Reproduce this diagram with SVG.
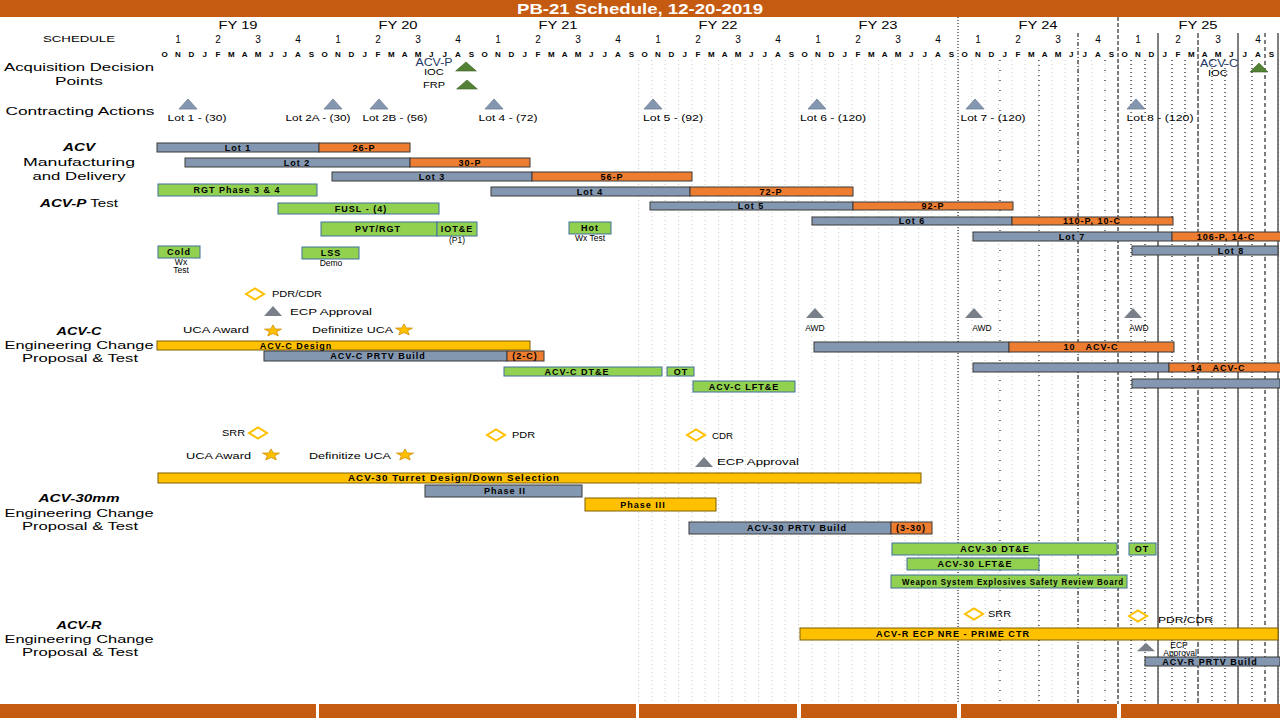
<svg xmlns="http://www.w3.org/2000/svg" width="1280" height="720" viewBox="0 0 1280 720">
<style>
text{font-family:"Liberation Sans",Arial,sans-serif;fill:#000}
.lbl{font-size:11px;text-anchor:middle}
.hdr{font-size:10px;text-anchor:middle}
.mo{font-size:8px;font-weight:bold;text-anchor:middle}
.bt{font-size:9px;font-weight:bold;text-anchor:middle;dominant-baseline:central;letter-spacing:1px}
.ms{font-size:8.5px;dominant-baseline:central}
.gray{fill:#8497B0;stroke:#3A3A3A;stroke-width:1}
.org{fill:#ED7D31;stroke:#3A3A3A;stroke-width:1}
.grn{fill:#92D050;stroke:#41719C;stroke-width:1}
.yel{fill:#FFC000;stroke:#7F6000;stroke-width:1}
.dia{fill:#fff;stroke:#FFC000;stroke-width:2}
.tri{fill:#8497B0;stroke:#6F7F95;stroke-width:0.8}
.dtri{fill:#7A808A}
.gtri{fill:#548235;stroke:#3B5E25;stroke-width:0.6}
.star{fill:#FFC000;stroke:#C98A00;stroke-width:0.8}
.band{fill:#C55A11}
</style>
<defs>
<pattern id="mgrid" x="638" y="0" width="13.3333" height="4" patternUnits="userSpaceOnUse">
<rect x="0" y="0" width="1" height="1" fill="#C8C8C8"/>
</pattern>
<path id="tri" d="M-9,5 L0,-5 L9,5 Z"/>
<path id="dia" d="M-9,0 L0,-5.5 L9,0 L0,5.5 Z"/>
<path id="star" d="M0,-8 L2,-2.75 L7.61,-2.47 L3.23,1.05 L4.7,6.47 L0,3.4 L-4.7,6.47 L-3.23,1.05 L-7.61,-2.47 L-2,-2.75 Z" transform="scale(1.12,0.76)"/>
</defs>
<rect width="1280" height="720" fill="#fff"/>

<g id="title">
<rect class="band" x="0" y="0" width="1280" height="17"/>
<text x="640" y="14" text-anchor="middle" font-size="14" font-weight="bold" style="fill:#fff" textLength="246" lengthAdjust="spacingAndGlyphs">PB-21 Schedule, 12-20-2019</text>
</g>

<g id="grid">
<rect x="638" y="60" width="642" height="644" fill="url(#mgrid)"/>
<g stroke="#000" fill="none">
<line x1="958" y1="17" x2="958" y2="704" stroke-dasharray="1,2"/>
<line x1="1000" y1="60" x2="1000" y2="704" stroke-dasharray="1,9"/>
<line x1="1039" y1="60" x2="1039" y2="704" stroke-dasharray="1,4"/>
<line x1="1078" y1="33" x2="1078" y2="704" stroke-dasharray="4,2,1,2"/>
<line x1="1105" y1="60" x2="1105" y2="704" stroke-dasharray="1,9"/>
<line x1="1118" y1="17" x2="1118" y2="704" stroke-dasharray="4,2"/>
<line x1="1158" y1="33" x2="1158" y2="704"/>
<line x1="1198" y1="33" x2="1198" y2="704" stroke-dasharray="5,2"/>
<line x1="1238" y1="33" x2="1238" y2="704"/>
<line x1="1265" y1="33" x2="1265" y2="704" stroke-dasharray="4,3"/>
<line x1="1278" y1="33" x2="1278" y2="704"/>
<g stroke-dasharray="1,3">
<line x1="1131" y1="60" x2="1131" y2="704"/>
<line x1="1145" y1="60" x2="1145" y2="704"/>
<line x1="1172" y1="60" x2="1172" y2="704"/>
<line x1="1185" y1="60" x2="1185" y2="704"/>
<line x1="1212" y1="60" x2="1212" y2="704"/>
<line x1="1225" y1="60" x2="1225" y2="704"/>
<line x1="1252" y1="60" x2="1252" y2="704"/>
</g>
</g>
</g>

<g id="timeline-header">
<text x="79" y="42" font-size="9" text-anchor="middle" textLength="72" lengthAdjust="spacingAndGlyphs">SCHEDULE</text>
<g class="hdr">
<text x="238" y="29" textLength="39" lengthAdjust="spacingAndGlyphs">FY 19</text>
<text x="398" y="29" textLength="39" lengthAdjust="spacingAndGlyphs">FY 20</text>
<text x="558" y="29" textLength="39" lengthAdjust="spacingAndGlyphs">FY 21</text>
<text x="718" y="29" textLength="39" lengthAdjust="spacingAndGlyphs">FY 22</text>
<text x="878" y="29" textLength="39" lengthAdjust="spacingAndGlyphs">FY 23</text>
<text x="1038" y="29" textLength="39" lengthAdjust="spacingAndGlyphs">FY 24</text>
<text x="1198" y="29" textLength="39" lengthAdjust="spacingAndGlyphs">FY 25</text>
</g>
<g class="hdr">
<text x="178" y="43">1</text><text x="218" y="43">2</text><text x="258" y="43">3</text><text x="298" y="43">4</text>
<text x="338" y="43">1</text><text x="378" y="43">2</text><text x="418" y="43">3</text><text x="458" y="43">4</text>
<text x="498" y="43">1</text><text x="538" y="43">2</text><text x="578" y="43">3</text><text x="618" y="43">4</text>
<text x="658" y="43">1</text><text x="698" y="43">2</text><text x="738" y="43">3</text><text x="778" y="43">4</text>
<text x="818" y="43">1</text><text x="858" y="43">2</text><text x="898" y="43">3</text><text x="938" y="43">4</text>
<text x="978" y="43">1</text><text x="1018" y="43">2</text><text x="1058" y="43">3</text><text x="1098" y="43">4</text>
<text x="1138" y="43">1</text><text x="1178" y="43">2</text><text x="1218" y="43">3</text><text x="1258" y="43">4</text>
</g>
<g class="mo">
<text x="164.7" y="57">O</text><text x="178" y="57">N</text><text x="191.3" y="57">D</text><text x="204.7" y="57">J</text><text x="218" y="57">F</text><text x="231.3" y="57">M</text><text x="244.7" y="57">A</text><text x="258" y="57">M</text><text x="271.3" y="57">J</text><text x="284.7" y="57">J</text><text x="298" y="57">A</text><text x="311.3" y="57">S</text>
<text x="324.7" y="57">O</text><text x="338" y="57">N</text><text x="351.3" y="57">D</text><text x="364.7" y="57">J</text><text x="378" y="57">F</text><text x="391.3" y="57">M</text><text x="404.7" y="57">A</text><text x="418" y="57">M</text><text x="431.3" y="57">J</text><text x="444.7" y="57">J</text><text x="458" y="57">A</text><text x="471.3" y="57">S</text>
<text x="484.7" y="57">O</text><text x="498" y="57">N</text><text x="511.3" y="57">D</text><text x="524.7" y="57">J</text><text x="538" y="57">F</text><text x="551.3" y="57">M</text><text x="564.7" y="57">A</text><text x="578" y="57">M</text><text x="591.3" y="57">J</text><text x="604.7" y="57">J</text><text x="618" y="57">A</text><text x="631.3" y="57">S</text>
<text x="644.7" y="57">O</text><text x="658" y="57">N</text><text x="671.3" y="57">D</text><text x="684.7" y="57">J</text><text x="698" y="57">F</text><text x="711.3" y="57">M</text><text x="724.7" y="57">A</text><text x="738" y="57">M</text><text x="751.3" y="57">J</text><text x="764.7" y="57">J</text><text x="778" y="57">A</text><text x="791.3" y="57">S</text>
<text x="804.7" y="57">O</text><text x="818" y="57">N</text><text x="831.3" y="57">D</text><text x="844.7" y="57">J</text><text x="858" y="57">F</text><text x="871.3" y="57">M</text><text x="884.7" y="57">A</text><text x="898" y="57">M</text><text x="911.3" y="57">J</text><text x="924.7" y="57">J</text><text x="938" y="57">A</text><text x="951.3" y="57">S</text>
<text x="964.7" y="57">O</text><text x="978" y="57">N</text><text x="991.3" y="57">D</text><text x="1004.7" y="57">J</text><text x="1018" y="57">F</text><text x="1031.3" y="57">M</text><text x="1044.7" y="57">A</text><text x="1058" y="57">M</text><text x="1071.3" y="57">J</text><text x="1084.7" y="57">J</text><text x="1098" y="57">A</text><text x="1111.3" y="57">S</text>
<text x="1124.7" y="57">O</text><text x="1138" y="57">N</text><text x="1151.3" y="57">D</text><text x="1164.7" y="57">J</text><text x="1178" y="57">F</text><text x="1191.3" y="57">M</text><text x="1204.7" y="57">A</text><text x="1218" y="57">M</text><text x="1231.3" y="57">J</text><text x="1244.7" y="57">J</text><text x="1258" y="57">A</text><text x="1271.3" y="57">S</text>
</g>
</g>

<g id="row-labels" class="lbl">
<text x="79" y="71" textLength="150" lengthAdjust="spacingAndGlyphs">Acquisition Decision</text>
<text x="79" y="85" textLength="48" lengthAdjust="spacingAndGlyphs">Points</text>
<text x="80" y="115" textLength="149" lengthAdjust="spacingAndGlyphs">Contracting Actions</text>
<text x="79" y="151" font-weight="bold" font-style="italic" textLength="32" lengthAdjust="spacingAndGlyphs">ACV</text>
<text x="79" y="166" textLength="112" lengthAdjust="spacingAndGlyphs">Manufacturing</text>
<text x="79" y="180" textLength="93" lengthAdjust="spacingAndGlyphs">and Delivery</text>
<text x="79" y="207" textLength="78" lengthAdjust="spacingAndGlyphs"><tspan font-weight="bold" font-style="italic">ACV-P</tspan> Test</text>
<text x="79" y="335" font-weight="bold" font-style="italic" textLength="45" lengthAdjust="spacingAndGlyphs">ACV-C</text>
<text x="79" y="349" textLength="149" lengthAdjust="spacingAndGlyphs">Engineering Change</text>
<text x="80" y="362" textLength="116" lengthAdjust="spacingAndGlyphs">Proposal &amp; Test</text>
<text x="79" y="502" font-weight="bold" font-style="italic" textLength="81" lengthAdjust="spacingAndGlyphs">ACV-30mm</text>
<text x="79" y="517" textLength="149" lengthAdjust="spacingAndGlyphs">Engineering Change</text>
<text x="80" y="530" textLength="116" lengthAdjust="spacingAndGlyphs">Proposal &amp; Test</text>
<text x="79" y="629" font-weight="bold" font-style="italic" textLength="45" lengthAdjust="spacingAndGlyphs">ACV-R</text>
<text x="79" y="643" textLength="149" lengthAdjust="spacingAndGlyphs">Engineering Change</text>
<text x="80" y="656" textLength="116" lengthAdjust="spacingAndGlyphs">Proposal &amp; Test</text>
</g>

<g id="acq-decisions">
<text x="434" y="66" font-size="10" text-anchor="middle" style="fill:#1F3864" textLength="37" lengthAdjust="spacingAndGlyphs">ACV-P</text>
<text x="434" y="75" font-size="8.5" text-anchor="middle" textLength="20" lengthAdjust="spacingAndGlyphs">IOC</text>
<use href="#tri" class="gtri" transform="translate(466,66.5) scale(1.15,0.9)"/>
<text x="434" y="88" font-size="8.5" text-anchor="middle" textLength="22" lengthAdjust="spacingAndGlyphs">FRP</text>
<use href="#tri" class="gtri" transform="translate(467,84.5) scale(1.15,0.9)"/>
<text x="1219" y="67" font-size="10" text-anchor="middle" style="fill:#1F3864" textLength="38" lengthAdjust="spacingAndGlyphs">ACV-C</text>
<text x="1218" y="76" font-size="8.5" text-anchor="middle" textLength="20" lengthAdjust="spacingAndGlyphs">IOC</text>
<use href="#tri" class="gtri" transform="translate(1259,67.5) scale(1.0,0.9)"/>
</g>

<g id="contracting">
<use href="#tri" class="tri" x="188" y="104"/>
<text class="ms" x="197" y="118" text-anchor="middle" textLength="59" lengthAdjust="spacingAndGlyphs">Lot 1 - (30)</text>
<use href="#tri" class="tri" x="333" y="104"/>
<text class="ms" x="318" y="118" text-anchor="middle" textLength="65" lengthAdjust="spacingAndGlyphs">Lot 2A - (30)</text>
<use href="#tri" class="tri" x="379" y="104"/>
<text class="ms" x="395" y="118" text-anchor="middle" textLength="65" lengthAdjust="spacingAndGlyphs">Lot 2B - (56)</text>
<use href="#tri" class="tri" x="494" y="104"/>
<text class="ms" x="508" y="118" text-anchor="middle" textLength="59" lengthAdjust="spacingAndGlyphs">Lot 4 - (72)</text>
<use href="#tri" class="tri" x="653" y="104"/>
<text class="ms" x="673" y="118" text-anchor="middle" textLength="60" lengthAdjust="spacingAndGlyphs">Lot 5 - (92)</text>
<use href="#tri" class="tri" x="817" y="104"/>
<text class="ms" x="833" y="118" text-anchor="middle" textLength="66" lengthAdjust="spacingAndGlyphs">Lot 6 - (120)</text>
<use href="#tri" class="tri" x="975" y="104"/>
<text class="ms" x="993" y="118" text-anchor="middle" textLength="65" lengthAdjust="spacingAndGlyphs">Lot 7 - (120)</text>
<use href="#tri" class="tri" x="1136" y="104"/>
<text class="ms" x="1160" y="118" text-anchor="middle" textLength="67" lengthAdjust="spacingAndGlyphs">Lot 8 - (120)</text>
</g>

<g id="manufacturing">
<rect class="gray" x="157" y="143" width="162" height="9"/><text class="bt" x="238" y="147.5">Lot 1</text>
<rect class="org" x="319" y="143" width="91" height="9"/><text class="bt" x="364" y="147.5">26-P</text>
<rect class="gray" x="185" y="158" width="225" height="9"/><text class="bt" x="297" y="162.5">Lot 2</text>
<rect class="org" x="410" y="158" width="120" height="9"/><text class="bt" x="470" y="162.5">30-P</text>
<rect class="gray" x="332" y="172" width="200" height="9"/><text class="bt" x="432" y="176.5">Lot 3</text>
<rect class="org" x="532" y="172" width="160" height="9"/><text class="bt" x="612" y="176.5">56-P</text>
<rect class="gray" x="491" y="187" width="199" height="9"/><text class="bt" x="590" y="191.5">Lot 4</text>
<rect class="org" x="690" y="187" width="163" height="9"/><text class="bt" x="771" y="191.5">72-P</text>
<rect class="gray" x="650" y="202" width="203" height="8"/><text class="bt" x="751" y="206">Lot 5</text>
<rect class="org" x="853" y="202" width="160" height="8"/><text class="bt" x="933" y="206">92-P</text>
<rect class="gray" x="812" y="217" width="200" height="8"/><text class="bt" x="912" y="221">Lot 6</text>
<rect class="org" x="1012" y="217" width="161" height="8"/><text class="bt" x="1092" y="221">110-P, 10-C</text>
<rect class="gray" x="973" y="232" width="199" height="9"/><text class="bt" x="1072" y="236.5">Lot 7</text>
<rect class="org" x="1172" y="232" width="110" height="9"/><text class="bt" x="1226" y="236.5" text-anchor="start">106-P, 14-C</text>
<rect class="gray" x="1132" y="246" width="146" height="9"/><text class="bt" x="1231" y="250.5">Lot 8</text>
</g>

<g id="acvp-test">
<rect class="grn" x="158" y="184" width="159" height="12"/><text class="bt" x="237" y="190">RGT Phase 3 &amp; 4</text>
<rect class="grn" x="278" y="203" width="161" height="11"/><text class="bt" x="361" y="208.5">FUSL - (4)</text>
<rect class="grn" x="321" y="222" width="116" height="14"/><text class="bt" x="378" y="229">PVT/RGT</text>
<rect class="grn" x="437" y="222" width="40" height="14"/><text class="bt" x="457" y="229" letter-spacing="0">IOT&amp;E</text>
<text class="ms" x="457" y="240" text-anchor="middle" font-size="8">(P1)</text>
<rect class="grn" x="158" y="246" width="42" height="12"/><text class="bt" x="179" y="252">Cold</text>
<text class="ms" x="181" y="262" text-anchor="middle" font-size="7.5">Wx</text>
<text class="ms" x="181" y="270" text-anchor="middle" font-size="7.5">Test</text>
<rect class="grn" x="302" y="247" width="57" height="12"/><text class="bt" x="331" y="253">LSS</text>
<text class="ms" x="331" y="263" text-anchor="middle" font-size="7.5">Demo</text>
<rect class="grn" x="569" y="222" width="42" height="12"/><text class="bt" x="590" y="228">Hot</text>
<text class="ms" x="590" y="237.5" text-anchor="middle" font-size="7.5">Wx Test</text>
</g>

<g id="acvc">
<use href="#dia" class="dia" x="255" y="294"/>
<text class="ms" x="272" y="294" textLength="50" lengthAdjust="spacingAndGlyphs">PDR/CDR</text>
<use href="#tri" class="dtri" x="273" y="311"/>
<text class="ms" x="290" y="312" textLength="82" lengthAdjust="spacingAndGlyphs">ECP Approval</text>
<text class="ms" x="183" y="330" textLength="66" lengthAdjust="spacingAndGlyphs">UCA Award</text>
<use href="#star" class="star" x="273" y="331"/>
<text class="ms" x="312" y="330" textLength="81" lengthAdjust="spacingAndGlyphs">Definitize UCA</text>
<use href="#star" class="star" x="404" y="330"/>
<use href="#tri" class="dtri" x="815" y="313"/>
<text class="ms" x="815" y="328" text-anchor="middle">AWD</text>
<use href="#tri" class="dtri" x="974" y="313"/>
<text class="ms" x="982" y="328" text-anchor="middle">AWD</text>
<use href="#tri" class="dtri" x="1133" y="313"/>
<text class="ms" x="1139" y="328" text-anchor="middle">AWD</text>
<rect class="yel" x="157" y="341" width="373" height="9"/><text class="bt" x="296" y="346">ACV-C Design</text>
<rect class="gray" x="264" y="351" width="243" height="10"/><text class="bt" x="378" y="356">ACV-C PRTV Build</text>
<rect class="org" x="507" y="351" width="37" height="10"/><text class="bt" x="525" y="356" letter-spacing="0">(2-C)</text>
<rect class="gray" x="814" y="342" width="195" height="10"/>
<rect class="org" x="1009" y="342" width="165" height="10"/><text class="bt" x="1091" y="347" xml:space="preserve">10   ACV-C</text>
<rect class="gray" x="973" y="363" width="196" height="9"/>
<rect class="org" x="1169" y="363" width="113" height="9"/><text class="bt" x="1218" y="367.5" text-anchor="start" xml:space="preserve">14   ACV-C</text>
<rect class="gray" x="1132" y="379" width="148" height="9"/>
<rect class="grn" x="504" y="367" width="158" height="9"/><text class="bt" x="577" y="371.5">ACV-C  DT&amp;E</text>
<rect class="grn" x="667" y="367" width="27" height="9"/><text class="bt" x="681" y="371.5" letter-spacing="0">OT</text>
<rect class="grn" x="693" y="381" width="102" height="11"/><text class="bt" x="744" y="386.5">ACV-C  LFT&amp;E</text>
</g>

<g id="acv30">
<text class="ms" x="222" y="433" textLength="23" lengthAdjust="spacingAndGlyphs">SRR</text>
<use href="#dia" class="dia" x="258" y="433"/>
<use href="#dia" class="dia" x="496" y="435"/>
<text class="ms" x="512" y="435" textLength="23" lengthAdjust="spacingAndGlyphs">PDR</text>
<use href="#dia" class="dia" x="696" y="435"/>
<text class="ms" x="712" y="436" textLength="21" lengthAdjust="spacingAndGlyphs">CDR</text>
<use href="#tri" class="dtri" x="704" y="462"/>
<text class="ms" x="717" y="462" textLength="82" lengthAdjust="spacingAndGlyphs">ECP Approval</text>
<text class="ms" x="186" y="456" textLength="65" lengthAdjust="spacingAndGlyphs">UCA Award</text>
<use href="#star" class="star" x="271" y="455"/>
<text class="ms" x="309" y="456" textLength="82" lengthAdjust="spacingAndGlyphs">Definitize UCA</text>
<use href="#star" class="star" x="405" y="455"/>
<rect class="yel" x="158" y="473" width="763" height="10"/><text class="bt" x="454" y="478" textLength="212" lengthAdjust="spacingAndGlyphs">ACV-30 Turret Design/Down Selection</text>
<rect class="gray" x="425" y="485" width="157" height="12"/><text class="bt" x="505" y="491">Phase II</text>
<rect class="yel" x="585" y="498" width="131" height="13"/><text class="bt" x="643" y="504.5">Phase III</text>
<rect class="gray" x="689" y="522" width="202" height="12"/><text class="bt" x="797" y="528">ACV-30 PRTV Build</text>
<rect class="org" x="891" y="522" width="41" height="12"/><text class="bt" x="911" y="528" letter-spacing="0">(3-30)</text>
<rect class="grn" x="892" y="543" width="225" height="12"/><text class="bt" x="995" y="549">ACV-30 DT&amp;E</text>
<rect class="grn" x="1129" y="543" width="27" height="12"/><text class="bt" x="1142" y="549" letter-spacing="0">OT</text>
<rect class="grn" x="907" y="558" width="132" height="12"/><text class="bt" x="975" y="564">ACV-30 LFT&amp;E</text>
<rect class="grn" x="891" y="575" width="236" height="13"/><text class="bt" x="1013" y="581.5" font-size="7.5" letter-spacing="0" textLength="222" lengthAdjust="spacingAndGlyphs">Weapon System Explosives Safety Review Board</text>
</g>

<g id="acvr">
<use href="#dia" class="dia" x="974" y="614"/>
<text class="ms" x="988" y="614" textLength="23" lengthAdjust="spacingAndGlyphs">SRR</text>
<use href="#dia" class="dia" x="1138" y="616"/>
<text class="ms" x="1158" y="620" textLength="55" lengthAdjust="spacingAndGlyphs">PDR/CDR</text>
<rect class="yel" x="800" y="628" width="478" height="12"/><text class="bt" x="953" y="634" textLength="154" lengthAdjust="spacingAndGlyphs">ACV-R ECP NRE - PRIME CTR</text>
<use href="#tri" class="dtri" transform="translate(1146,647) scale(1,0.85)"/>
<text class="ms" x="1179" y="645" text-anchor="middle" font-size="7.5">ECP</text>
<text class="ms" x="1180" y="653" text-anchor="middle" font-size="7.5">Approval</text>
<rect class="gray" x="1145" y="657" width="135" height="9"/><text class="bt" x="1210" y="661.5" font-size="9.5">ACV-R PRTV Build</text>
</g>

<g id="connectors"></g>

<g id="footer">
<rect class="band" x="0" y="704" width="316" height="14"/>
<rect class="band" x="319" y="704" width="317" height="14"/>
<rect class="band" x="639" y="704" width="158" height="14"/>
<rect class="band" x="801" y="704" width="156" height="14"/>
<rect class="band" x="961" y="704" width="156" height="14"/>
<rect class="band" x="1121" y="704" width="159" height="14"/>
</g>
</svg>
